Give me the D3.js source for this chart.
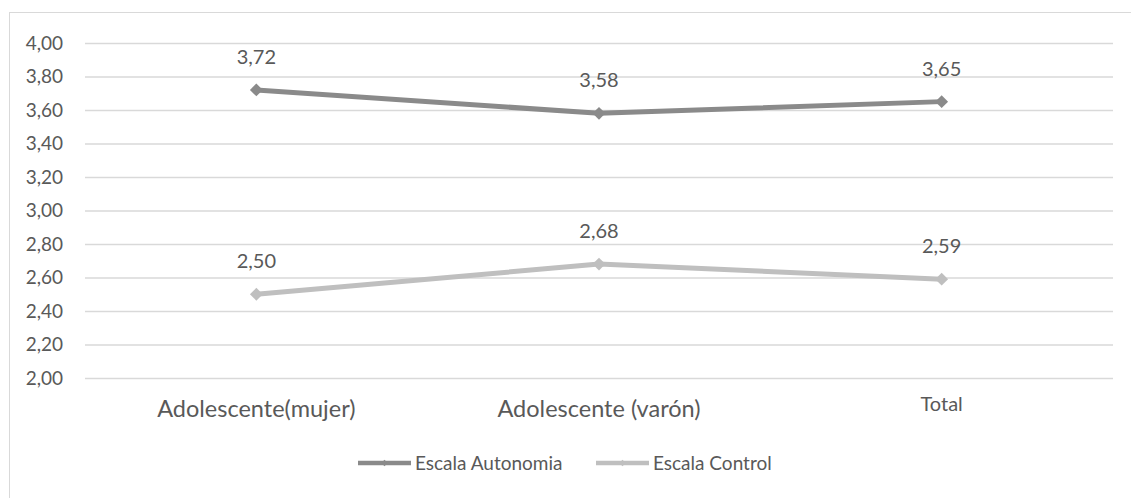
<!DOCTYPE html>
<html>
<head>
<meta charset="utf-8">
<script src="https://cdn.jsdelivr.net/npm/d3@7"></script>
<style>
  body { margin: 0; background: #fff; }
  text { font-family: Lato, "Open Sans", sans-serif; fill: #595959; }
</style>
</head>
<body>
<div id="chart"></div>
<script>
const categories = ["Adolescente(mujer)", "Adolescente (varón)", "Total"];
const seriesNames = ["Escala Autonomia", "Escala Control"];
const autonomia = [3.72, 3.58, 3.65];
const control = [2.50, 2.68, 2.59];
const yTicks = [2.0, 2.2, 2.4, 2.6, 2.8, 3.0, 3.2, 3.4, 3.6, 3.8, 4.0];
const colors = ["#8a8a8a", "#bfbfbf"];

const width = 1131, height = 498;
const margin = {top: 43, right: 18, left: 85};
const plotH = 335;

const svg = d3.select("#chart").append("svg")
    .attr("width", width)
    .attr("height", height);

// outer frame
svg.append("rect")
    .attr("x", 9.5).attr("y", 12.5)
    .attr("width", width + 10).attr("height", height + 10)
    .attr("fill", "none")
    .attr("stroke", "#d9d9d9");

const x = d3.scaleBand()
    .domain(categories)
    .range([margin.left, width - margin.right]);

const y = d3.scaleLinear()
    .domain([2, 4])
    .range([margin.top + plotH, margin.top]);

const fmt = d => d3.format(".2f")(d).replace(".", ",");

// gridlines + y labels
const yAxis = svg.append("g")
    .attr("transform", "translate(" + margin.left + ",0)")
    .call(d3.axisLeft(y).tickValues(yTicks).tickFormat(fmt)
        .tickSize(-(width - margin.left - margin.right)).tickPadding(22));
yAxis.select(".domain").remove();
yAxis.selectAll(".tick line").attr("stroke", "#d9d9d9").attr("stroke-width", 1.3);
yAxis.selectAll(".tick text").style("font-size", "19px").attr("fill", "#595959");

// category labels
const xAxis = svg.append("g")
    .attr("transform", "translate(0," + (margin.top + plotH) + ")")
    .call(d3.axisBottom(x).tickSize(0).tickPadding(22));
xAxis.select(".domain").remove();
xAxis.selectAll(".tick text")
    .style("font-size", (d, i) => i === 2 ? "20px" : "23.5px")
    .attr("dy", (d, i) => i === 2 ? "0.55em" : "0.71em")
    .attr("fill", "#404040");

const series = [autonomia, control];
const line = d3.line()
    .x((d, i) => x(categories[i]) + x.bandwidth() / 2)
    .y(d => y(d));
const diamond = d3.symbol().type(d3.symbolDiamond2).size(105);

series.forEach((vals, s) => {
    svg.append("path")
        .datum(vals)
        .attr("d", line)
        .attr("fill", "none")
        .attr("stroke", colors[s])
        .attr("stroke-width", 5)
        .attr("stroke-linejoin", "round");

    svg.selectAll(".pt" + s)
        .data(vals)
        .enter()
        .append("path")
        .attr("d", diamond)
        .attr("transform", (d, i) => "translate(" + (x(categories[i]) + x.bandwidth() / 2) + "," + y(d) + ")")
        .attr("fill", colors[s]);

    svg.selectAll(".lbl" + s)
        .data(vals)
        .enter()
        .append("text")
        .attr("x", (d, i) => x(categories[i]) + x.bandwidth() / 2)
        .attr("y", d => y(d) - 26)
        .attr("text-anchor", "middle")
        .style("font-size", "20px")
        .attr("fill", "#404040")
        .text(fmt);
});

// legend
const legendX = [358, 596];
const legend = svg.append("g");
seriesNames.forEach((name, i) => {
    const g = legend.append("g").attr("transform", "translate(" + legendX[i] + ",463)");
    g.append("line")
        .attr("x1", 0).attr("x2", 53)
        .attr("stroke", colors[i]).attr("stroke-width", 4.5);
    g.append("path")
        .attr("d", d3.symbol().type(d3.symbolDiamond2).size(28))
        .attr("transform", "translate(26.5,0)")
        .attr("fill", colors[i]);
    g.append("text")
        .attr("x", 57).attr("y", 0)
        .attr("dy", "0.35em")
        .style("font-size", "19px")
        .text(name);
});
</script>
</body>
</html>
